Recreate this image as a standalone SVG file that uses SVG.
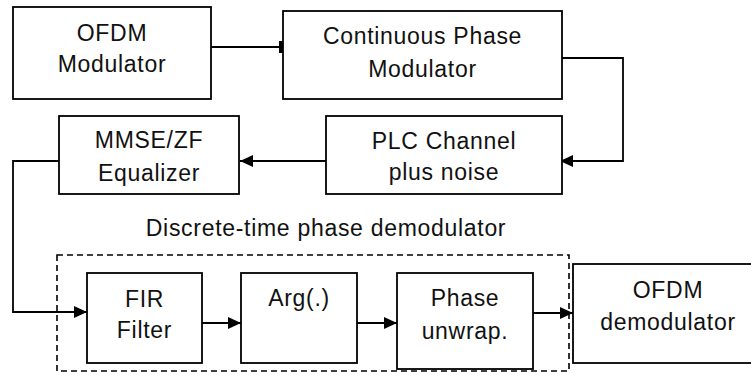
<svg xmlns="http://www.w3.org/2000/svg" width="751" height="373" viewBox="0 0 751 373">
<style>
.box{fill:#fff;stroke:#000;stroke-width:1.8}
.ln{fill:none;stroke:#000;stroke-width:1.8}
.dash{fill:none;stroke:#000;stroke-width:1.6;stroke-dasharray:6 4}
text{font-family:"Liberation Sans",Arial,sans-serif;font-size:23px;fill:#111;text-anchor:middle;letter-spacing:0.7px}
</style>
<defs>
<marker id="ah" markerUnits="userSpaceOnUse" markerWidth="14" markerHeight="12" refX="13" refY="6" orient="auto">
<path d="M0,0 L13,6 L0,12 z" fill="#000"/>
</marker>
</defs>
<rect width="751" height="373" fill="#fff"/>
<g id="demod-group">
<rect class="dash" x="57" y="255" width="512" height="116"/>
<text x="326" y="236">Discrete-time phase demodulator</text>
</g>
<g id="connectors">
<path class="ln" d="M211,47 H281"/>
<polygon points="279,41 283,41 283,53 279,53" fill="#000"/>
<path class="ln" d="M562,58 H623 V161 H560" marker-end="url(#ah)"/>
<path class="ln" d="M326,161 H240" marker-end="url(#ah)"/>
<path class="ln" d="M59,161 H13 V312 H87" marker-end="url(#ah)"/>
<path class="ln" d="M202,323 H241" marker-end="url(#ah)"/>
<path class="ln" d="M357,323 H397" marker-end="url(#ah)"/>
<path class="ln" d="M533,313 H573" marker-end="url(#ah)"/>
</g>
<g id="ofdm-mod">
<rect class="box" x="13" y="7" width="198" height="92"/>
<text x="112" y="41">OFDM</text>
<text x="112" y="72">Modulator</text>
</g>
<g id="cpm">
<rect class="box" x="283" y="11" width="279" height="88"/>
<text x="422.5" y="44">Continuous Phase</text>
<text x="422.5" y="77">Modulator</text>
</g>
<g id="plc">
<rect class="box" x="326" y="116" width="236" height="78"/>
<text x="444" y="149">PLC Channel</text>
<text x="444" y="180">plus noise</text>
</g>
<g id="equalizer">
<rect class="box" x="59" y="116" width="180" height="78"/>
<text x="149" y="148">MMSE/ZF</text>
<text x="149" y="181">Equalizer</text>
</g>
<g id="fir">
<rect class="box" x="87" y="273" width="115" height="90"/>
<text x="144.5" y="307">FIR</text>
<text x="144.5" y="338">Filter</text>
</g>
<g id="arg">
<rect class="box" x="241" y="273" width="116" height="90"/>
<text x="299" y="306">Arg(.)</text>
</g>
<g id="unwrap">
<rect class="box" x="397" y="273" width="136" height="96"/>
<text x="465" y="306">Phase</text>
<text x="465" y="339">unwrap.</text>
</g>
<g id="ofdm-demod">
<rect class="box" x="573" y="264" width="190" height="99"/>
<text x="668" y="298">OFDM</text>
<text x="668" y="330">demodulator</text>
</g>
</svg>
